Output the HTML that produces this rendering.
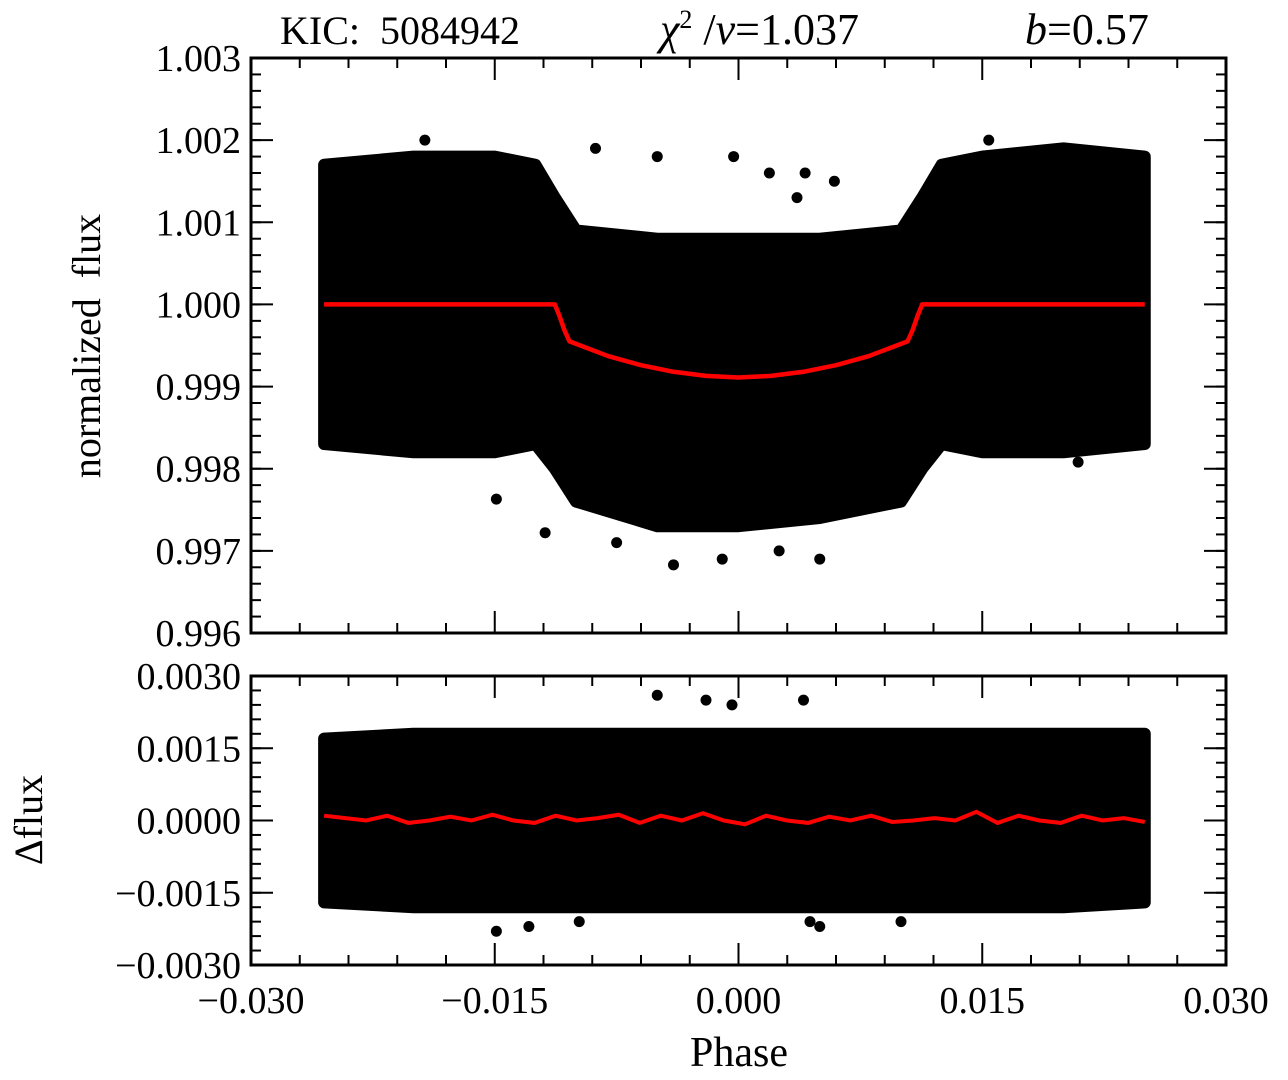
<!DOCTYPE html>
<html><head><meta charset="utf-8"><style>
body{margin:0;background:#fff}
svg text{font-family:"Liberation Serif",serif;fill:#000}
</style></head><body>
<svg id="c" width="1288" height="1075" xmlns="http://www.w3.org/2000/svg"></svg>
<script>
const envPhase=[-0.0255,-0.02,-0.015,-0.0125,-0.0113,-0.0100,-0.005,0,0.005,0.0100,0.0113,0.0125,0.015,0.02,0.0250];
const envUpper=[1.0017,1.0018,1.0018,1.0017,1.0013,1.0009,1.0008,1.0008,1.0008,1.0009,1.0013,1.0017,1.0018,1.0019,1.0018];
const envLower=[0.9983,0.9982,0.9982,0.9983,0.9980,0.9976,0.9973,0.9973,0.9974,0.9976,0.9980,0.9983,0.9982,0.9982,0.9983];
const outPhase=[-0.0193,-0.0149,-0.0119,-0.0088,-0.0075,-0.0040,-0.0010,-0.0050,0.0019,0.0041,0.0050,-0.0003,0.0025,0.0036,0.0059,0.0154,0.0209];
const outFlux=[1.0020,0.99763,0.99722,1.0019,0.99710,0.99683,0.99690,1.0018,1.0016,1.0016,0.99690,1.0018,0.99700,1.0013,1.0015,1.0020,0.99808];
const modelPhase=[-0.0255,-0.0113,-0.0110,-0.0107,-0.0104,-0.008,-0.006,-0.004,-0.002,0,0.002,0.004,0.006,0.008,0.0104,0.0107,0.0110,0.0113,0.0250];
const modelFlux=[1.0,1.0,0.99985,0.99968,0.99955,0.99937,0.99926,0.99918,0.99913,0.99911,0.99913,0.99918,0.99926,0.99937,0.99955,0.99968,0.99985,1.0,1.0];
const resEnvUpper=[0.0017,0.0018,0.0018,0.0018,0.0018,0.0018,0.0018,0.0018,0.0018,0.0018,0.0018,0.0018,0.0018,0.0018,0.0018];
const resEnvLower=[-0.0017,-0.0018,-0.0018,-0.0018,-0.0018,-0.0018,-0.0018,-0.0018,-0.0018,-0.0018,-0.0018,-0.0018,-0.0018,-0.0018,-0.0017];
const resOutPhase=[-0.0149,-0.0129,-0.0050,-0.0020,-0.0004,0.0040,0.0100,-0.0098,0.0044,0.0050];
const resOut=[-0.0023,-0.0022,0.0026,0.0025,0.0024,0.0025,-0.0021,-0.0021,-0.0021,-0.0022];
const resLine=[0.0001,0.00005,0.0,0.0001,-0.00005,0.0,0.00008,0.0,0.00012,0.0,-0.00005,0.0001,0.0,0.00005,0.00012,-0.00005,0.0001,0.0,0.00015,0.0,-0.00008,0.0001,0.0,-0.00005,0.00008,0.0,0.0001,-0.00003,0.0,0.00005,0.0,0.00018,-0.00005,0.0001,0.0,-0.00005,0.0001,0.0,0.00005,-0.00003];
const xTicks=[-0.03,-0.015,0,0.015,0.03];
const xTickLabels=["\u22120.030","\u22120.015","0.000","0.015","0.030"];
const yTopTicks=[0.996,0.997,0.998,0.999,1.000,1.001,1.002,1.003];
const yTopLabels=["0.996","0.997","0.998","0.999","1.000","1.001","1.002","1.003"];
const yBotTicks=[-0.003,-0.0015,0,0.0015,0.003];
const yBotLabels=["\u22120.0030","\u22120.0015","0.0000","0.0015","0.0030"];

const L=251,R=1226,T1=58,B1=633,T2=676,B2=965;
const X=v=>L+(v+0.03)/0.06*(R-L);
const Y1=v=>B1-(v-0.996)/0.007*(B1-T1);
const Y2=v=>B2-(v+0.003)/0.006*(B2-T2);
const svg=document.getElementById('c');const NS='http://www.w3.org/2000/svg';
function mk(tag,attrs,parent){const e=document.createElementNS(NS,tag);for(const k in attrs)e.setAttribute(k,attrs[k]);(parent||svg).appendChild(e);return e;}

function blob(up,lo,Yf,name){
  let pts=envPhase.map((p,i)=>X(p)+','+Yf(up[i]));
  for(let i=envPhase.length-1;i>=0;i--)pts.push(X(envPhase[i])+','+Yf(lo[i]));
  const e=mk('polygon',{points:pts.join(' '),fill:'#000',stroke:'#000','stroke-width':12,'stroke-linejoin':'round'});
  
  
}
blob(envUpper,envLower,Y1,'flux-data-points');
outPhase.forEach((p,i)=>{const c=mk('circle',{cx:X(p),cy:Y1(outFlux[i]),r:5.5,fill:'#000'});
  
  });
blob(resEnvUpper,resEnvLower,Y2,'residual-data-points');
resOutPhase.forEach((p,i)=>{const c=mk('circle',{cx:X(p),cy:Y2(resOut[i]),r:5.5,fill:'#000'});
  
  });
const m=mk('polyline',{points:modelPhase.map((p,i)=>X(p)+','+Y1(modelFlux[i])).join(' '),fill:'none',stroke:'#f00','stroke-width':4.5,'stroke-linejoin':'round'});


const rl=mk('polyline',{points:resLine.map((v,i)=>X(-0.0255+i*0.0505/(resLine.length-1))+','+Y2(v)).join(' '),fill:'none',stroke:'#f00','stroke-width':4});



function axes(T,B,Yf,yt,yl,minorStep,ymin,ymax,showX,name){
  const r=mk('rect',{x:L,y:T,width:R-L,height:B-T,fill:'none',stroke:'#000','stroke-width':3});
  
  
  for(let v=-0.03;v<=0.0301;v+=0.003){const x=X(v);const maj=Math.abs(v/0.015-Math.round(v/0.015))<1e-6;const len=maj?22:10;
    mk('line',{x1:x,y1:B,x2:x,y2:B-len,stroke:'#000','stroke-width':2});
    mk('line',{x1:x,y1:T,x2:x,y2:T+len,stroke:'#000','stroke-width':2});}
  for(let v=ymin;v<=ymax+1e-9;v+=minorStep){const y=Yf(v);
    mk('line',{x1:L,y1:y,x2:L+10,y2:y,stroke:'#000','stroke-width':2});
    mk('line',{x1:R,y1:y,x2:R-10,y2:y,stroke:'#000','stroke-width':2});}
  yt.forEach((v,i)=>{const y=Yf(v);
    mk('line',{x1:L,y1:y,x2:L+22,y2:y,stroke:'#000','stroke-width':2});
    mk('line',{x1:R,y1:y,x2:R-22,y2:y,stroke:'#000','stroke-width':2});
    const t=mk('text',{x:L-10,y:y+13,'text-anchor':'end','font-size':38});t.textContent=yl[i];
    
    });
  if(showX)xTicks.forEach((v,i)=>{const t=mk('text',{x:X(v),y:B+48,'text-anchor':'middle','font-size':38});t.textContent=xTickLabels[i];
    
    });
}
axes(T1,B1,Y1,yTopTicks,yTopLabels,0.0002,0.996,1.003,false,'flux-panel');
axes(T2,B2,Y2,yBotTicks,yBotLabels,0.0003,-0.003,0.003,true,'residual-panel');

function txt(s,attrs,name){const t=mk('text',attrs);t.innerHTML=s;return t;}
txt('KIC:&#160;&#160;5084942',{x:280,y:44,'font-size':40},'title-kic');
txt('<tspan font-style="italic">χ</tspan><tspan font-size="26" dy="-16">2</tspan><tspan dy="16"> /</tspan><tspan font-style="italic">ν</tspan>=1.037',{x:660,y:44,'font-size':44},'title-chi2');
txt('<tspan font-style="italic">b</tspan>=0.57',{x:1025,y:44,'font-size':44},'title-impact');
txt('normalized&#160;&#160;flux',{x:100,y:346,'font-size':40,'text-anchor':'middle',transform:'rotate(-90 100 346)'},'y-axis-title-flux');
txt('Δflux',{x:42,y:820,'font-size':40,'text-anchor':'middle',transform:'rotate(-90 42 820)'},'y-axis-title-residual');
txt('Phase',{x:739,y:1066,'font-size':42,'text-anchor':'middle'},'x-axis-title');
</script>
</body></html>
